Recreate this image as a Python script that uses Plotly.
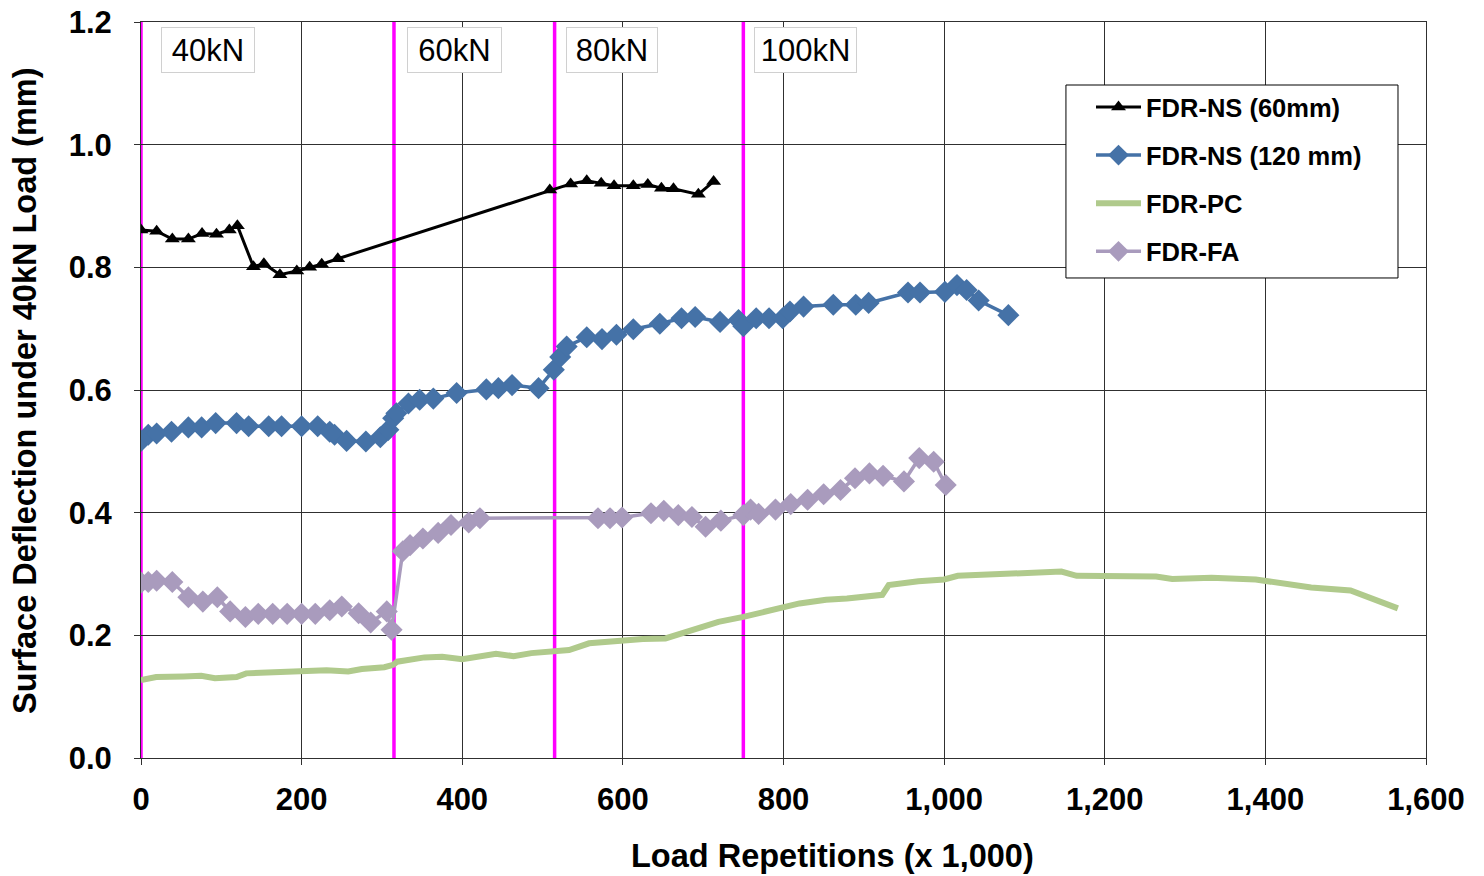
import plotly.graph_objects as go

# FDR-NS (60mm)
ns60_x = [0, 19.5, 39, 59, 76, 94, 110, 120, 140, 153, 173, 194, 210, 225, 245,
          509, 535, 555, 573, 589, 613, 631, 648, 663, 694, 713]
ns60_y = [0.861, 0.859, 0.846, 0.846, 0.855, 0.854, 0.861, 0.868, 0.801, 0.806, 0.788, 0.794, 0.800, 0.805, 0.814,
          0.926, 0.936, 0.941, 0.937, 0.933, 0.933, 0.935, 0.929, 0.928, 0.919, 0.940]

# FDR-NS (120 mm)
ns120_x = [0, 9, 19.5, 38, 59, 75.5, 93, 119, 134, 159, 175, 200, 220, 235, 241, 256, 280, 298, 308, 314, 318,
           333, 347, 364, 393, 430, 445, 462, 495, 514, 522, 530, 555, 574, 592, 613, 646, 673, 690,
           721, 744, 750, 766, 782, 799, 808, 825, 862, 890, 906, 955, 970, 1001, 1016, 1028, 1043, 1080]
ns120_y = [0.517, 0.527, 0.529, 0.532, 0.539, 0.539, 0.546, 0.546, 0.541, 0.541, 0.541, 0.541, 0.541, 0.532, 0.527,
           0.517, 0.516, 0.523, 0.535, 0.554, 0.562,
           0.578, 0.584, 0.586, 0.595, 0.601, 0.603, 0.608, 0.603, 0.633, 0.654, 0.671, 0.686, 0.683, 0.690,
           0.699, 0.708, 0.717, 0.719,
           0.711, 0.714, 0.704, 0.717, 0.717, 0.717, 0.728, 0.736, 0.739, 0.739, 0.742, 0.759, 0.759, 0.760,
           0.771, 0.763, 0.746, 0.722]

# FDR-PC
pc_x = [0, 19, 53, 75, 92, 119, 131, 164, 197, 231, 258, 275, 303, 314, 319, 353, 375, 400, 442, 464, 486,
        514, 533, 558, 597, 625, 653, 686, 719, 750, 775, 803, 820, 853, 879, 923, 931, 968, 1000, 1017,
        1067, 1126, 1146, 1165, 1200, 1215, 1264, 1284, 1333, 1388, 1402, 1457, 1506, 1565]
pc_y = [0.127, 0.132, 0.133, 0.134, 0.130, 0.132, 0.138, 0.139, 0.142, 0.143, 0.141, 0.145, 0.148, 0.152,
        0.157, 0.164, 0.165, 0.161, 0.170, 0.166, 0.171, 0.174, 0.176, 0.187, 0.192, 0.194, 0.195, 0.209,
        0.222, 0.230, 0.237, 0.247, 0.252, 0.258, 0.260, 0.266, 0.282, 0.288, 0.291, 0.297, 0.300, 0.304,
        0.304, 0.297, 0.297, 0.298, 0.296, 0.292, 0.294, 0.291, 0.288, 0.278, 0.273, 0.244]

# FDR-FA
fa_x = [0, 9, 19.5, 39, 59, 77, 95, 111, 130, 146, 164, 182, 200, 217, 235, 250, 271, 286, 306, 312,
        326, 335, 351, 370, 386, 408, 422, 569, 584, 599, 635, 651, 669, 686, 703, 722, 750, 759, 769,
        790, 809, 830, 850, 871, 889, 907, 924, 950, 969, 987, 1002]
fa_y = [0.286, 0.287, 0.289, 0.287, 0.262, 0.255, 0.262, 0.239, 0.230, 0.235, 0.235, 0.235, 0.235, 0.235,
        0.241, 0.247, 0.236, 0.221, 0.239, 0.209,
        0.337, 0.347, 0.358, 0.367, 0.380, 0.384, 0.391, 0.391, 0.391, 0.392, 0.399, 0.403, 0.396, 0.393,
        0.377, 0.387, 0.396, 0.405, 0.398, 0.405, 0.414, 0.421, 0.430, 0.437, 0.456, 0.464, 0.460, 0.451,
        0.489, 0.483, 0.445]

# Load stage boundaries and labels
stage_x = [0, 315, 515, 750]
stage_labels = ["40kN", "60kN", "80kN", "100kN"]
stage_label_x = [83, 390, 586, 828]
stage_label_w = [90, 91, 88, 99]

x_ticks = [0, 200, 400, 600, 800, 1000, 1200, 1400, 1600]
y_ticks = [0.0, 0.2, 0.4, 0.6, 0.8, 1.0, 1.2]

x_title = "Load Repetitions (x 1,000)"
y_title = "Surface Deflection under 40kN Load (mm)"

FONT = "Liberation Sans, Arial, sans-serif"

fig = go.Figure()

for sx in stage_x:
    fig.add_shape(type="line", x0=sx, x1=sx, y0=0, y1=1.2, xref="x", yref="y",
                  line=dict(color="#FF00FF", width=3.5), layer="below")

# legend frame (legend itself drawn on top, transparent)
fig.add_shape(type="rect", xref="paper", yref="paper", x0=0.7198, x1=0.9782, y0=0.6522, y1=0.9144,
              fillcolor="#FFFFFF", line=dict(color="#000000", width=1), layer="above")

fig.add_trace(go.Scatter(x=ns60_x, y=ns60_y, name="FDR-NS (60mm)", mode="lines+markers",
                         line=dict(color="#000000", width=3),
                         marker=dict(symbol="triangle-up", size=13, color="#000000"),
                         legendgroup="a"))
fig.add_trace(go.Scatter(x=ns120_x, y=ns120_y, name="FDR-NS (120 mm)", mode="lines+markers",
                         line=dict(color="#4572A7", width=3.5),
                         marker=dict(symbol="diamond", size=17, color="#4572A7"),
                         legendgroup="b"))
fig.add_trace(go.Scatter(x=pc_x, y=pc_y, name="FDR-PC", mode="lines",
                         line=dict(color="#B0CA8C", width=6),
                         legendgroup="c"))
fig.add_trace(go.Scatter(x=fa_x, y=fa_y, name="FDR-FA", mode="lines+markers",
                         line=dict(color="#A99BBD", width=3.5),
                         marker=dict(symbol="diamond", size=17, color="#A99BBD"),
                         legendgroup="d"))

for lab, lx, w in zip(stage_labels, stage_label_x, stage_label_w):
    fig.add_annotation(x=lx, y=0.962, xref="x", yref="paper", text=lab, showarrow=False,
                       font=dict(family=FONT, size=31, color="#000000"),
                       bgcolor="#FFFFFF", bordercolor="#D0D0D0", borderwidth=1,
                       width=w, height=42, xanchor="center", yanchor="middle")

fig.add_annotation(x=0.538, y=-0.1332, xref="paper", yref="paper", text=x_title, showarrow=False,
                   font=dict(family=FONT, size=32.5, color="#000000", weight="bold"),
                   xanchor="center", yanchor="middle")
fig.add_annotation(x=-0.0903, y=0.5, xref="paper", yref="paper", text=y_title, showarrow=False,
                   textangle=-90,
                   font=dict(family=FONT, size=32.5, color="#000000", weight="bold"),
                   xanchor="center", yanchor="middle")

fig.update_layout(
    width=1484, height=876,
    margin=dict(l=141, r=58, t=22, b=118, autoexpand=False),
    paper_bgcolor="#FFFFFF", plot_bgcolor="#FFFFFF",
    font=dict(family=FONT, size=24, color="#000000"),
    showlegend=True,
    legend=dict(x=0.7393, y=0.9160, xanchor="left", yanchor="top",
                bgcolor="rgba(0,0,0,0)", borderwidth=0,
                font=dict(family=FONT, size=25.5, color="#000000", weight="bold"),
                tracegroupgap=12, itemwidth=45, traceorder="grouped"),
    xaxis=dict(range=[0, 1600], tickvals=x_ticks, tickformat=",d",
               showgrid=True, gridcolor="#303030", gridwidth=1,
               showline=True, linecolor="#303030", linewidth=1, mirror=True,
               ticks="outside", ticklen=6, tickcolor="#303030",
               ticklabelstandoff=8, automargin=False,
               tickfont=dict(family=FONT, size=31, weight="bold"),
               zeroline=False),
    yaxis=dict(range=[0, 1.2], tickvals=y_ticks, tickformat=".1f",
               showgrid=True, gridcolor="#303030", gridwidth=1,
               showline=True, linecolor="#303030", linewidth=1, mirror=True,
               ticks="outside", ticklen=6, tickcolor="#303030",
               ticklabelstandoff=16, automargin=False,
               tickfont=dict(family=FONT, size=31, weight="bold"),
               zeroline=False),
)

fig.write_html("out.html")
